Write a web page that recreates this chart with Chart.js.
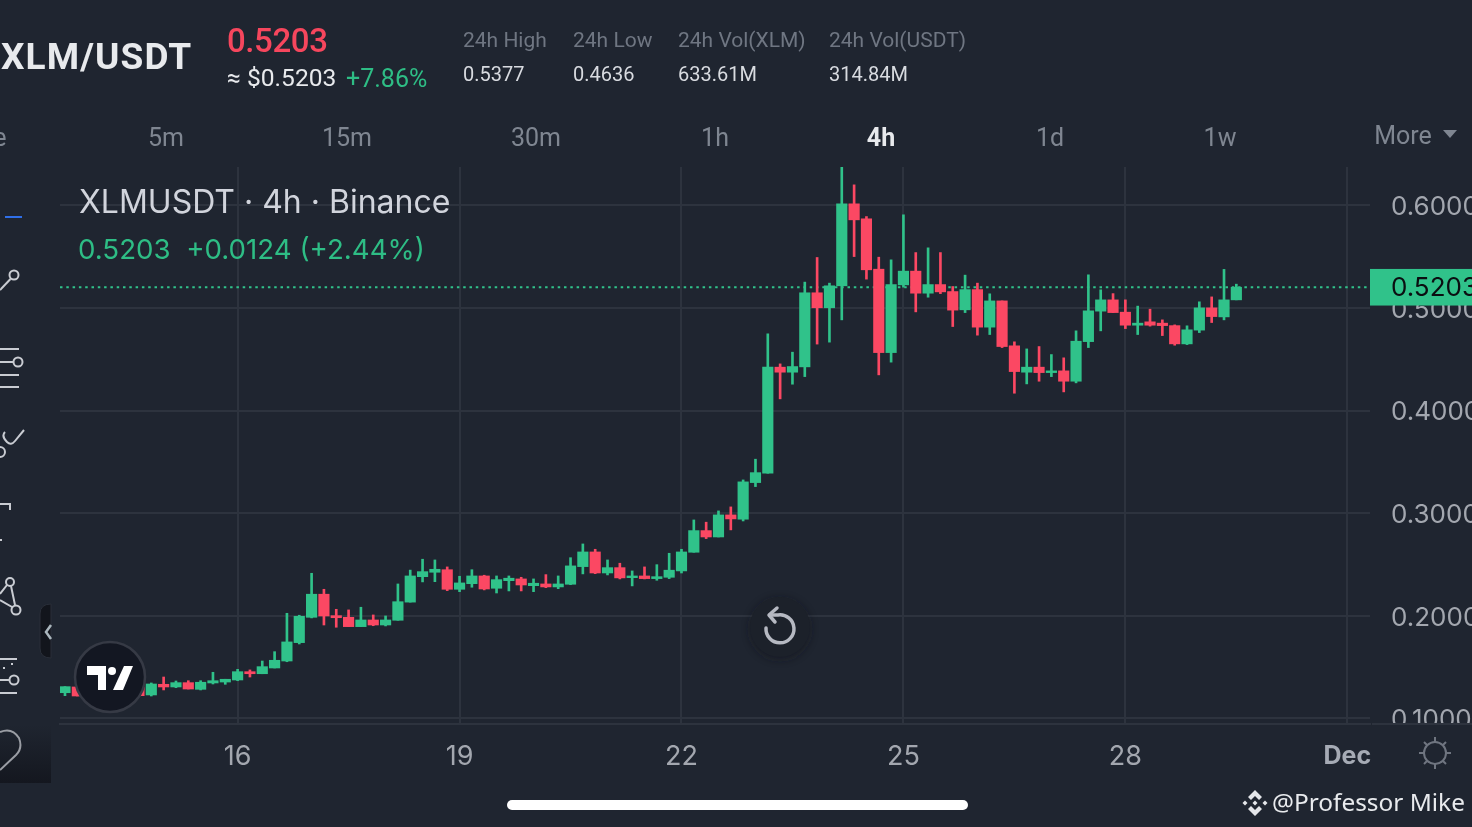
<!DOCTYPE html>
<html>
<head>
<meta charset="utf-8">
<title>XLMUSDT 4h</title>
<script src="https://cdn.jsdelivr.net/npm/chart.js"></script>
<style>
  html, body { margin: 0; padding: 0; background: #1f2530; overflow: hidden; }
  #wrap { position: relative; width: 1472px; height: 827px; overflow: hidden; font-family: Roboto, sans-serif; }
  #lineChart { position: absolute; left: 0; top: 0; }
  .t { position: absolute; white-space: nowrap; line-height: 1; }
  .tab { color: #7f8691; font-size: 25px; top: 125px; transform: translateX(-50%); }
  .lab { color: #6f7682; font-size: 21px; top: 30px; }
  .val { color: #d8dbe0; font-size: 20px; top: 64px; }
  svg { position: absolute; left: 0; top: 0; overflow: visible; }
</style>
</head>
<body>
<div id="wrap">
  <canvas id="lineChart" width="1472" height="827"></canvas>

  <svg width="1472" height="827" fill="none">
    <defs>
      <linearGradient id="side" x1="0" y1="0" x2="0" y2="1">
        <stop offset="0" stop-color="#1f2530"/><stop offset="1" stop-color="#14171f"/>
      </linearGradient>
      <filter id="soft" x="-30%" y="-30%" width="160%" height="160%"><feGaussianBlur stdDeviation="4"/></filter>
    </defs>
    <!-- toolbar -->
    <rect x="0" y="725" width="51" height="58" fill="url(#side)"/>
    <rect x="5" y="216" width="17" height="2" fill="#2f6fe8"/>
    <g stroke="#c9ccd2" stroke-width="2">
      <circle cx="14" cy="275" r="4.5"/><path d="M10.5 279 L0 290"/>
      <path d="M0 349 H19 M0 362 H13 M0 375 H19 M0 387 H19"/><circle cx="18" cy="362" r="4.5"/>
      <path d="M5 432 Q1 436 7 442 Q11 446 15 441 L24 430"/><circle cx="0" cy="452" r="5"/>
      <path d="M0 504 H10 V510 M0 540 H2"/>
      <circle cx="10" cy="582" r="4"/><circle cx="16" cy="610" r="4.5"/><path d="M7 585 L0 594 M0 600 L12 607 M11 586 L15 605"/>
      <path d="M0 659 H17 M0 680 H9 M0 693 H17"/><circle cx="14" cy="680" r="4.5"/>
      <path d="M3 668 H5 M11 664 H13"/>
      <path d="M0 732 Q12 727 19 738 Q23 748 16 755 L0 770" stroke="#9a9da4"/>
    </g>
    <path d="M51 604 Q40 604 40 614 V648 Q40 658 51 658 Z" fill="#12151c" stroke="#2a2f39" stroke-width="1"/>
    <path d="M51 625 L46 632 L51 639" stroke="#aab6bd" stroke-width="2.5"/>

    <!-- TradingView badge -->
    <circle cx="110" cy="677" r="35" fill="#131722" stroke="#363a45" stroke-width="2.5"/>
    <path d="M87 666 H106 V690 H98 V675 H87 Z" fill="#fff"/>
    <circle cx="112" cy="671" r="4" fill="#fff"/>
    <path d="M124 666 H133 L123 690 H113 Z" fill="#fff"/>

    <!-- reset button -->
    <circle cx="780" cy="629" r="30" fill="#15181f" opacity="0.6" filter="url(#soft)"/>
    <circle cx="780" cy="627" r="30" fill="#1c212a"/>
    <g stroke="#b6b9c2" stroke-width="3.5" stroke-linecap="round" stroke-linejoin="round">
      <path d="M770 615 H778 A14 14 0 1 1 766 628"/>
      <path d="M777 608 L769 615 L775 622"/>
    </g>

    <!-- settings -->
    <g stroke="#6f7580" stroke-width="2">
      <circle cx="1435" cy="753" r="11"/>
      <path d="M1435 737 V742 M1435 764 V769 M1419 753 H1424 M1446 753 H1451 M1424 742 L1427 745 M1443 761 L1446 764 M1446 742 L1443 745 M1427 761 L1424 764"/>
    </g>

    <!-- home bar -->
    <rect x="507" y="800" width="461" height="10" rx="5" fill="#fff"/>

    <!-- diamond -->
    <g fill="#e4e6ea">
      <path d="M1255 790 L1262 797 L1259 800 L1255 796 L1251 800 L1248 797 Z"/>
      <path d="M1255 816 L1262 809 L1259 806 L1255 810 L1251 806 L1248 809 Z"/>
      <path d="M1255 800.5 L1257.5 803 L1255 805.5 L1252.5 803 Z"/>
      <path d="M1245 800.5 L1247.5 803 L1245 805.5 L1242.5 803 Z"/>
      <path d="M1265 800.5 L1267.5 803 L1265 805.5 L1262.5 803 Z"/>
    </g>
  </svg>

  <div class="t" style="left:1px;top:38px;font-size:37px;font-weight:700;color:#e8eaed;letter-spacing:1.1px">XLM/USDT</div>
  <div class="t" style="left:227px;top:24px;font-size:33px;font-weight:500;color:#f6465d;letter-spacing:-0.4px">0.5203</div>
  <div class="t" style="left:227px;top:66px;font-size:24.6px;color:#e8eaed">≈ $0.5203</div>
  <div class="t" style="left:346px;top:66px;font-size:25px;color:#2ebd85">+7.86%</div>

  <div class="t lab" style="left:463px">24h High</div>
  <div class="t lab" style="left:573px">24h Low</div>
  <div class="t lab" style="left:678px">24h Vol(XLM)</div>
  <div class="t lab" style="left:829px">24h Vol(USDT)</div>
  <div class="t val" style="left:463px">0.5377</div>
  <div class="t val" style="left:573px">0.4636</div>
  <div class="t val" style="left:678px">633.61M</div>
  <div class="t val" style="left:829px">314.84M</div>

  <div class="t tab" style="left:0px">e</div>
  <div class="t tab" style="left:166px">5m</div>
  <div class="t tab" style="left:347px">15m</div>
  <div class="t tab" style="left:536px">30m</div>
  <div class="t tab" style="left:715px">1h</div>
  <div class="t tab" style="left:881px;color:#e8eaed;font-weight:700">4h</div>
  <div class="t tab" style="left:1050px">1d</div>
  <div class="t tab" style="left:1220px">1w</div>
  <div class="t tab" style="left:1403px;top:123px">More</div>
  <svg width="1472" height="827"><path d="M1443 130 H1457 L1450 138 Z" fill="#7f8691"/></svg>

  <div class="t" style="left:79px;top:186px;font-size:32px;color:#d1d4dc;font-family:Inter, sans-serif">XLMUSDT · 4h · Binance</div>
  <div class="t" style="left:78px;top:236px;font-size:27.7px;color:#2ebd85;font-family:Inter, sans-serif">0.5203&nbsp; +0.0124 (+2.44%)</div>

  <div class="t" style="left:1272px;top:790px;font-size:24.4px;color:#e8eaed;font-family:'Noto Sans', sans-serif">@Professor Mike</div>
</div>

<script>
// Dados. candles 2-5 ficam atrás do logo, valores estimados
const opens = [0.1251, 0.1307, 0.1258, 0.1297, 0.1268, 0.1258, 0.1307, 0.1229, 0.1333, 0.1307, 0.1349, 0.1284,
  0.1346, 0.1355, 0.1375, 0.1456, 0.1436, 0.1492, 0.1560, 0.1739, 0.1986, 0.2211, 0.2002, 0.1986,
  0.1895, 0.1960, 0.1911, 0.1957, 0.2134, 0.2382, 0.2425, 0.2450, 0.2259, 0.2314, 0.2389, 0.2269,
  0.2343, 0.2360, 0.2294, 0.2311, 0.2282, 0.2308, 0.2480, 0.2623, 0.2418, 0.2470, 0.2372, 0.2389,
  0.2363, 0.2376, 0.2438, 0.2620, 0.2831, 0.2769, 0.2984, 0.2942, 0.3299, 0.3390, 0.4424, 0.4375,
  0.4427, 0.5149, 0.5003, 0.5217, 0.6016, 0.5870, 0.5379, 0.4566, 0.5226, 0.5360, 0.5145, 0.5229,
  0.5161, 0.4983, 0.5180, 0.4814, 0.5070, 0.4632, 0.4375, 0.4424, 0.4371, 0.4388, 0.4287, 0.4673,
  0.4970, 0.5080, 0.4960, 0.4833, 0.4866, 0.4853, 0.4829, 0.4651, 0.4785, 0.5002, 0.4914, 0.5080];
const closes = [0.1310, 0.1219, 0.1297, 0.1268, 0.1307, 0.1297, 0.1222, 0.1336, 0.1307, 0.1349, 0.1287, 0.1353,
  0.1368, 0.1382, 0.1456, 0.1436, 0.1505, 0.1567, 0.1746, 0.1996, 0.2211, 0.1999, 0.1982, 0.1895,
  0.1960, 0.1911, 0.1960, 0.2138, 0.2389, 0.2431, 0.2454, 0.2259, 0.2321, 0.2389, 0.2262, 0.2353,
  0.2367, 0.2301, 0.2318, 0.2282, 0.2311, 0.2487, 0.2623, 0.2418, 0.2470, 0.2370, 0.2389, 0.2363,
  0.2382, 0.2445, 0.2623, 0.2831, 0.2769, 0.2984, 0.2945, 0.3306, 0.3396, 0.4424, 0.4375, 0.4430,
  0.5149, 0.5003, 0.5217, 0.6016, 0.5860, 0.5373, 0.4566, 0.5229, 0.5360, 0.5145, 0.5229, 0.5158,
  0.4980, 0.5180, 0.4814, 0.5070, 0.4625, 0.4381, 0.4424, 0.4371, 0.4388, 0.4287, 0.4677, 0.4973,
  0.5080, 0.4956, 0.4833, 0.4853, 0.4833, 0.4829, 0.4651, 0.4788, 0.5002, 0.4917, 0.5080, 0.5203];
const highs = [0.1310, 0.1317, 0.1317, 0.1317, 0.1326, 0.1317, 0.1326, 0.1346, 0.1404, 0.1365, 0.1368, 0.1368,
  0.1450, 0.1382, 0.1479, 0.1473, 0.1560, 0.1651, 0.2025, 0.2006, 0.2415, 0.2259, 0.2064, 0.2058,
  0.2084, 0.2009, 0.1999, 0.2311, 0.2446, 0.2552, 0.2545, 0.2477, 0.2386, 0.2450, 0.2396, 0.2389,
  0.2389, 0.2376, 0.2360, 0.2402, 0.2389, 0.2567, 0.2701, 0.2649, 0.2545, 0.2513, 0.2438, 0.2477,
  0.2499, 0.2610, 0.2649, 0.2935, 0.2913, 0.3023, 0.3062, 0.3325, 0.3527, 0.4749, 0.4456, 0.4570,
  0.5253, 0.5493, 0.5243, 0.6374, 0.6201, 0.5892, 0.5496, 0.5470, 0.5909, 0.5541, 0.5587, 0.5541,
  0.5210, 0.5321, 0.5243, 0.5139, 0.5070, 0.4671, 0.4602, 0.4625, 0.4547, 0.4515, 0.4778, 0.5324,
  0.5178, 0.5141, 0.5080, 0.5019, 0.4989, 0.4885, 0.4836, 0.4827, 0.5061, 0.5109, 0.5377, 0.5233];
const lows = [0.1222, 0.1219, 0.1248, 0.1248, 0.1258, 0.1248, 0.1219, 0.1219, 0.1278, 0.1300, 0.1287, 0.1278,
  0.1336, 0.1333, 0.1368, 0.1404, 0.1436, 0.1492, 0.1553, 0.1726, 0.1980, 0.1911, 0.1889, 0.1895,
  0.1895, 0.1904, 0.1902, 0.1957, 0.2134, 0.2331, 0.2333, 0.2246, 0.2236, 0.2279, 0.2253, 0.2223,
  0.2243, 0.2243, 0.2236, 0.2275, 0.2265, 0.2304, 0.2409, 0.2411, 0.2399, 0.2360, 0.2292, 0.2360,
  0.2347, 0.2363, 0.2418, 0.2620, 0.2753, 0.2769, 0.2838, 0.2925, 0.3260, 0.3390, 0.4115, 0.4258,
  0.4332, 0.4649, 0.4668, 0.4885, 0.5502, 0.5282, 0.4349, 0.4473, 0.5204, 0.4963, 0.5106, 0.5141,
  0.4820, 0.4956, 0.4736, 0.4742, 0.4615, 0.4170, 0.4261, 0.4287, 0.4332, 0.4183, 0.4271, 0.4615,
  0.4778, 0.4956, 0.4800, 0.4742, 0.4824, 0.4732, 0.4638, 0.4644, 0.4761, 0.4859, 0.4885, 0.5080];

const xTicks = [14, 32, 50, 68, 86, 104];
const xTickLabels = ["16", "19", "22", "25", "28", "Dec"];
const yTicks = [0.1, 0.2, 0.3, 0.4, 0.5, 0.6];
const lastPrice = 0.5203;

const upColor = "#30c28a";
const downColor = "#fb4863";
const gridColor = "#2d333e";
const tickColor = "#a3a7af";

const candleColors = opens.map((o, i) => closes[i] >= o ? upColor : downColor);

// etiqueta do último preço e recorte do eixo direito
const priceTag = {
  id: "priceTag",
  afterDraw(chart) {
    const c = chart.ctx;
    const area = chart.chartArea;
    const y = chart.scales.y.getPixelForValue(lastPrice);
    c.save();
    c.fillStyle = "#1f2530";
    c.fillRect(area.right + 1, area.bottom, 110, 40);
    c.strokeStyle = gridColor;
    c.lineWidth = 2;
    c.beginPath();
    c.moveTo(area.right + 2, area.bottom);
    c.lineTo(1472, area.bottom);
    c.stroke();
    c.fillStyle = upColor;
    c.fillRect(area.right, y - 18.3, 110, 36.6);
    c.fillStyle = "#0b0e11";
    c.font = "26px Inter";
    c.textBaseline = "middle";
    c.fillText(lastPrice.toFixed(4), area.right + 21, y + 1);
    c.restore();
  }
};

const config = {
  type: "bar",
  data: {
    datasets: [
      {
        type: "line",
        data: [{ x: -0.405, y: lastPrice }, { x: 105.84, y: lastPrice }],
        borderColor: upColor,
        borderWidth: 2,
        borderDash: [2.5, 3.8],
        pointRadius: 0,
        order: 3
      },
      {
        data: opens.map((o, i) => ({ x: i, y: [lows[i], highs[i]] })),
        backgroundColor: candleColors,
        barThickness: 2,
        grouped: false,
        order: 2
      },
      {
        data: opens.map((o, i) => ({ x: i, y: [o, closes[i]] })),
        backgroundColor: candleColors,
        barThickness: 10.5,
        grouped: false,
        order: 1
      }
    ]
  },
  options: {
    responsive: false,
    animation: false,
    layout: { padding: { left: 60, top: 167, right: 0, bottom: 60 } },
    plugins: { legend: { display: false }, tooltip: { enabled: false } },
    scales: {
      x: {
        type: "linear",
        offset: false,
        min: -0.405,
        max: 105.84,
        afterBuildTicks: (s) => { s.ticks = xTicks.map((v) => ({ value: v })); },
        afterFit: (s) => { s.height = 43; },
        grid: { color: gridColor, lineWidth: 2, offset: false, drawTicks: false },
        border: { color: gridColor, width: 2 },
        ticks: {
          autoSkip: false,
          maxRotation: 0,
          padding: 17,
          color: (ctx) => ctx.index === 5 ? "#a6abb5" : tickColor,
          font: (ctx) => ({ family: "Inter", size: ctx.index === 5 ? 25 : 27, weight: ctx.index === 5 ? "700" : "400" }),
          callback: (v) => xTickLabels[xTicks.indexOf(v)]
        }
      },
      y: {
        position: "right",
        min: 0.0946,
        max: 0.6375,
        afterBuildTicks: (s) => { s.ticks = yTicks.map((v) => ({ value: v })); },
        afterFit: (s) => { s.width = 102; },
        grid: { color: gridColor, lineWidth: 2, drawTicks: false },
        border: { display: false },
        ticks: {
          padding: 21,
          labelOffset: 2,
          crossAlign: "near",
          color: tickColor,
          font: { family: "Inter", size: 26 },
          callback: (v) => v.toFixed(4)
        }
      }
    }
  },
  plugins: [priceTag]
};

const ctx = document.getElementById("lineChart").getContext("2d");
new Chart(ctx, config);
</script>
</body>
</html>
